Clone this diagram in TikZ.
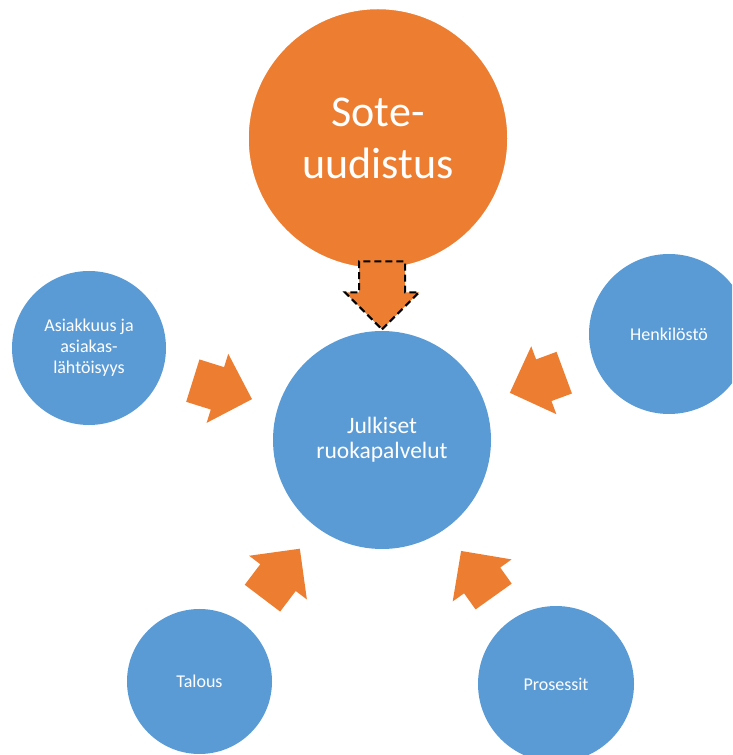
\documentclass[tikz,border=0pt]{standalone}
\usepackage{fontspec}
\setmainfont{Carlito}
\usetikzlibrary{calc, shapes.arrows}
\definecolor{soteor}{HTML}{ED7D31}
\definecolor{themebl}{HTML}{5B9BD5}
\newcommand{\theme}[4]{%
  \node[circle, fill=themebl, minimum size=#3, inner sep=0pt,
        text=white, align=center, font=\fontsize{18}{21}\selectfont]
        (#1) at #2 {#4};
}
\newcommand{\pusharrow}[5][]{%
  \node[single arrow, fill=soteor, inner xsep=0pt, inner ysep=22pt,
        single arrow head extend=14pt,
        minimum height=#5, rotate=#4, anchor=tip, #1] (#2) at #3 {};
}

\begin{document}
\begin{tikzpicture}[x=1pt, y=1pt]
    \useasboundingbox (0,0) rectangle (732,755);
    \clip (0,0) rectangle (732,755);
    \node[circle, fill=soteor, draw=white, line width=1.5pt,
          minimum size=260pt, inner sep=0pt, text=white, align=center,
          font=\fontsize{44}{52}\selectfont] (sote) at (378,616.5) {Sote-\\uudistus};
    \node[circle, fill=themebl, minimum size=218pt, inner sep=0pt,
          text=white, align=center, font=\fontsize{23.5}{25}\selectfont]
          (hub) at (382,315) {Julkiset\\ruokapalvelut};
    \theme{asiak}{(89,407)}{154pt}{Asiakkuus ja\\asiakas-\\lähtöisyys}
    \theme{henk}{(669,421)}{160pt}{Henkilöstö}
    \theme{talous}{(199.5,73.5)}{145pt}{Talous}
    \theme{pros}{(556,71)}{156pt}{Prosessit}
    % arrows pushing towards the hub
    \pusharrow[draw=black, line width=2pt, dash pattern=on 7pt off 4pt]
      {a0}{(hub.north)}{-90}{68pt}
    \pusharrow{a1}{($(hub)!136pt!(asiak)$)}{-17.4}{62pt}
    \pusharrow{a2}{($(hub)!136pt!(henk)$)}{200.3}{58pt}
    \pusharrow{a3}{($(hub)!136pt!(talous)$)}{52.9}{62pt}
    \pusharrow{a4}{($(hub)!136pt!(pros)$)}{125.5}{56pt}
  \end{tikzpicture}
\end{document}
